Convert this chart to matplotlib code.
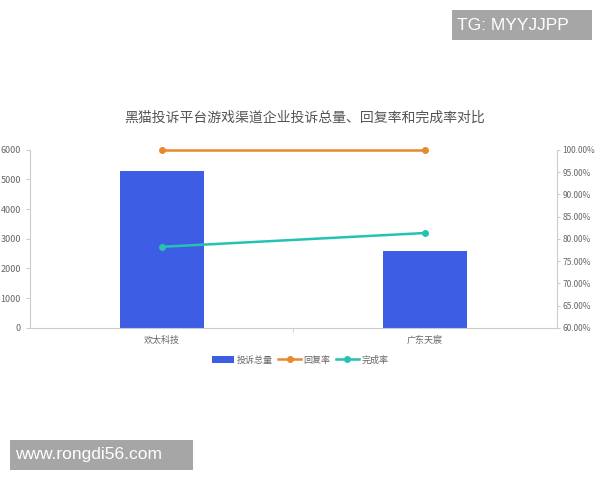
import numpy as np
import matplotlib.pyplot as plt
from matplotlib.patches import Rectangle
from matplotlib.ticker import FuncFormatter

plt.rcParams['font.family'] = ['Noto Sans CJK SC', 'DejaVu Sans']

# 数据
companies = ['欢太科技', '广东天宸']
complaints = [5300, 2600]
reply_rate = [100.0, 100.0]
finish_rate = [78.2, 81.3]

bar_color = '#3d5ee4'
reply_color = '#e8892c'
finish_color = '#25c2b4'
axis_color = '#cccccc'
text_color = '#666666'

fig = plt.figure(figsize=(6, 4.8), dpi=100)
ax = fig.add_axes([0.05, 0.317, 0.878, 0.371])
ax2 = ax.twinx()

x = np.arange(len(companies))
ax.bar(x, complaints, width=0.32, color=bar_color, zorder=2, label='投诉总量')
ax.set_xlim(-0.5, len(companies) - 0.5)
ax.set_ylim(0, 6000)
ax.set_yticks(np.arange(0, 6001, 1000))
ax.set_xticks(x)
ax.set_xticklabels(companies)
ax.set_xticks([0.5], minor=True)

l1, = ax2.plot(x, reply_rate, color=reply_color, lw=1.8, marker='o', ms=4, zorder=3,
               clip_on=False, label='回复率')
l2, = ax2.plot(x, finish_rate, color=finish_color, lw=1.8, marker='o', ms=4, zorder=3,
               clip_on=False, label='完成率')
ax2.set_ylim(60, 100)
ax2.set_yticks(np.arange(60, 100.1, 5))
ax2.yaxis.set_major_formatter(FuncFormatter(lambda v, p: '{:.2f}%'.format(v)))

for a in (ax, ax2):
    for s in a.spines.values():
        s.set_visible(False)
    a.tick_params(colors=text_color, labelsize=6.5, length=3, width=0.8)
    a.tick_params(which='minor', length=3, color=axis_color)
    a.tick_params(axis='both', color=axis_color)
ax2.tick_params(labelsize=6, pad=2, length=2)
ax.spines['left'].set_visible(True)
ax.spines['left'].set_color(axis_color)
ax.spines['bottom'].set_visible(True)
ax.spines['bottom'].set_color(axis_color)
ax2.spines['right'].set_visible(True)
ax2.spines['right'].set_color(axis_color)
ax.tick_params(axis='x', length=0, pad=6)

fig.text(0.507, 0.754, '黑猫投诉平台游戏渠道企业投诉总量、回复率和完成率对比',
         ha='center', va='center', fontsize=10, color='#555555')

handles = [ax.patches[0], l1, l2]
fig.legend(handles, ['投诉总量', '回复率', '完成率'], loc='center', bbox_to_anchor=(0.5, 0.25),
           ncol=3, frameon=False, fontsize=6.5, handlelength=2.5, columnspacing=0.6,
           handletextpad=0.3, labelcolor=text_color)

# 水印
fig.patches.append(Rectangle((452 / 600, 1 - 40 / 480), 140 / 600, 30 / 480,
                             transform=fig.transFigure, fc='#a6a6a6', ec='none'))
fig.text(457 / 600, 1 - 25 / 480, 'TG: MYYJJPP', ha='left', va='center', fontsize=12.5,
         color='white', family='Liberation Sans')
fig.patches.append(Rectangle((10 / 600, 1 - 470 / 480), 183 / 600, 30 / 480,
                             transform=fig.transFigure, fc='#a6a6a6', ec='none'))
fig.text(15 / 600, 1 - 455 / 480, 'www.rongdi56.com', ha='left', va='center', fontsize=12.5,
         color='white', family='Liberation Sans')

fig.savefig('out.png', dpi=100)
